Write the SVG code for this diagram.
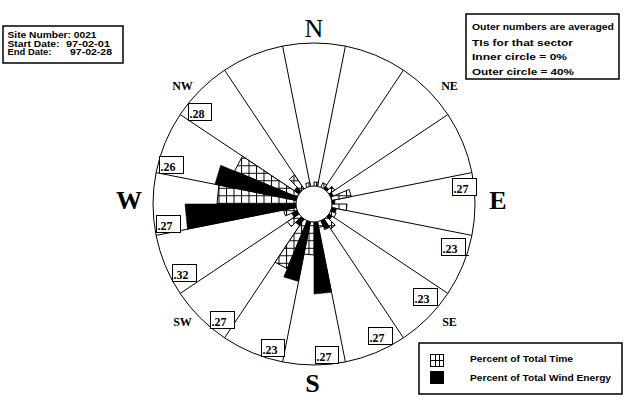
<svg xmlns="http://www.w3.org/2000/svg" width="630" height="406" viewBox="0 0 630 406">
<style>
.ln{stroke:#000;stroke-width:1;fill:none}
.hat{fill:url(#grid);stroke:#000;stroke-width:1;stroke-linejoin:miter}
.blk{fill:#000;stroke:#000;stroke-width:0.6}
.box{fill:#fff;stroke:#000;stroke-width:1}
.ibox{fill:#fff;stroke:#000;stroke-width:1.5}
.ti{font-family:"Liberation Serif",serif;font-weight:bold;font-size:12px}
.card{font-family:"Liberation Serif",serif;font-weight:bold;font-size:26px;text-anchor:middle}
.ic{font-family:"Liberation Serif",serif;font-weight:bold;font-size:12px;text-anchor:middle}
.sm{font-family:"Liberation Sans",sans-serif;font-weight:bold;font-size:9px}
</style>
<defs>
<pattern id="grid" patternUnits="userSpaceOnUse" x="1" y="0.3" width="7.5" height="7.5">
<rect width="7.5" height="7.5" fill="#fff"/>
<path d="M0 0.5H7.5M0.5 0V7.5" stroke="#000" stroke-width="1"/>
</pattern>
</defs>
<rect width="630" height="406" fill="#fff"/>
<g id="rose">
<circle cx="314" cy="204" r="161" class="ln"/>
<g id="dividers" class="ln">
<line x1="317.51" y1="186.35" x2="345.41" y2="46.09"/>
<line x1="324.0" y1="189.03" x2="403.45" y2="70.13"/>
<line x1="328.97" y1="194.0" x2="447.87" y2="114.55"/>
<line x1="331.65" y1="200.49" x2="471.91" y2="172.59"/>
<line x1="331.65" y1="207.51" x2="471.91" y2="235.41"/>
<line x1="328.97" y1="214.0" x2="447.87" y2="293.45"/>
<line x1="324.0" y1="218.97" x2="403.45" y2="337.87"/>
<line x1="317.51" y1="221.65" x2="345.41" y2="361.91"/>
<line x1="310.49" y1="221.65" x2="282.59" y2="361.91"/>
<line x1="304.0" y1="218.97" x2="224.55" y2="337.87"/>
<line x1="299.03" y1="214.0" x2="180.13" y2="293.45"/>
<line x1="296.35" y1="207.51" x2="156.09" y2="235.41"/>
<line x1="296.35" y1="200.49" x2="156.09" y2="172.59"/>
<line x1="299.03" y1="194.0" x2="180.13" y2="114.55"/>
<line x1="304.0" y1="189.03" x2="224.55" y2="70.13"/>
<line x1="310.49" y1="186.35" x2="282.59" y2="46.09"/>
</g>
<g id="time-bars">
<polygon class="hat" points="314,187 314,182 318.29,182.42 317.32,187.33"/>
<polygon class="hat" points="320.51,188.29 322.8,182.75 326.78,184.88 323.44,189.87"/>
<polygon class="hat" points="326.02,191.98 331.68,186.32 334.79,190.11 328.13,194.56"/>
<polygon class="hat" points="329.71,197.49 349.11,189.46 351.27,196.59 330.67,200.68"/>
<polygon class="hat" points="331,204 347,204 346.37,210.44 330.67,207.32"/>
<polygon class="hat" points="329.71,210.51 336.17,213.18 333.96,217.33 328.13,213.44"/>
<polygon class="hat" points="326.02,216.02 335.21,225.21 330.67,228.94 323.44,218.13"/>
<polygon class="hat" points="320.51,219.71 323.18,226.17 318.68,227.54 317.32,220.67"/>
<polygon class="hat" points="314,221 314,255 304.05,254.02 310.68,220.67"/>
<polygon class="hat" points="307.49,219.71 287.21,268.67 275.11,262.2 304.56,218.13"/>
<polygon class="hat" points="301.98,216.02 291.37,226.63 287.39,221.78 299.87,213.44"/>
<polygon class="hat" points="298.29,210.51 285.36,215.86 283.6,210.05 297.33,207.32"/>
<polygon class="hat" points="297,204 217,204 218.86,185.08 297.33,200.68"/>
<polygon class="hat" points="298.29,197.49 234.55,171.09 242.49,156.22 299.87,194.56"/>
<polygon class="hat" points="301.98,191.98 289.25,179.25 294.56,174.9 304.56,189.87"/>
<polygon class="hat" points="307.49,188.29 305.58,183.67 309.71,182.42 310.68,187.33"/>
</g>
<g id="energy-bars">
<polygon class="blk" points="323.44,189.87 325.67,186.54 328.85,189.15 326.02,191.98"/>
<polygon class="blk" points="328.13,194.56 331.46,192.33 333.4,195.96 329.71,197.49"/>
<polygon class="blk" points="330.67,200.68 334.6,199.9 335,204 331,204"/>
<polygon class="blk" points="330.67,207.32 336.56,208.49 335.25,212.8 329.71,210.51"/>
<polygon class="blk" points="328.13,213.44 332.29,216.22 329.56,219.56 326.02,216.02"/>
<polygon class="blk" points="323.44,218.13 329.56,227.28 324.72,229.87 320.51,219.71"/>
<polygon class="blk" points="317.32,220.67 331.56,292.27 314,294 314,221"/>
<polygon class="blk" points="310.68,220.67 298.59,281.48 283.77,276.99 307.49,219.71"/>
<polygon class="blk" points="304.56,218.13 299.56,225.62 295.62,222.38 301.98,216.02"/>
<polygon class="blk" points="299.87,213.44 294.04,217.33 291.83,213.18 298.29,210.51"/>
<polygon class="blk" points="297.33,207.32 187.48,229.17 185,204 297,204"/>
<polygon class="blk" points="297.33,200.68 214.94,184.3 220.69,165.35 298.29,197.49"/>
<polygon class="blk" points="299.87,194.56 294.04,190.67 297.03,187.03 301.98,191.98"/>
</g>
<circle cx="314" cy="204" r="18" fill="#fff" stroke="#000" stroke-width="1"/>
</g>
<g id="ti-labels">
<g id="ti-nw"><rect class="box" x="188.5" y="103.5" width="23" height="17"/><text class="ti" x="189.5" y="117.5">.28</text></g>
<g id="ti-wnw"><rect class="box" x="159.5" y="156.5" width="24" height="17"/><text class="ti" x="160.5" y="170.5">.26</text></g>
<g id="ti-w"><rect class="box" x="156.5" y="215.5" width="24" height="17"/><text class="ti" x="157.5" y="229.5">.27</text></g>
<g id="ti-wsw"><rect class="box" x="172.5" y="264.5" width="24" height="17"/><text class="ti" x="173.5" y="278.5">.32</text></g>
<g id="ti-sw"><rect class="box" x="210.5" y="311.5" width="24" height="17"/><text class="ti" x="211.5" y="325.5">.27</text></g>
<g id="ti-ssw"><rect class="box" x="261.5" y="339.5" width="23" height="17"/><text class="ti" x="262.5" y="353.5">.23</text></g>
<g id="ti-s"><rect class="box" x="315.5" y="346.5" width="23" height="17"/><text class="ti" x="316.5" y="360.5">.27</text></g>
<g id="ti-sse"><rect class="box" x="368.5" y="327.5" width="24" height="17"/><text class="ti" x="369.5" y="341.5">.27</text></g>
<g id="ti-se"><rect class="box" x="413.5" y="288.5" width="24" height="17"/><text class="ti" x="414.5" y="302.5">.23</text></g>
<g id="ti-ese"><rect class="box" x="441.5" y="238.5" width="24" height="17"/><line class="ln" x1="465.5" y1="255.5" x2="469" y2="255.5"/><text class="ti" x="442.5" y="252.5">.23</text></g>
<g id="ti-e"><rect class="box" x="452.5" y="178.5" width="24" height="17"/><text class="ti" x="453.5" y="192.5">.27</text></g>
</g>
<g id="directions">
<text class="card" x="314" y="37" font-weight="normal" style="font-weight:normal">N</text>
<text class="card" x="129" y="209">W</text>
<text class="card" x="498" y="209">E</text>
<text class="card" x="312.5" y="392">S</text>
<text class="ic" x="182.5" y="90">NW</text>
<text class="ic" x="449.5" y="90">NE</text>
<text class="ic" x="182.5" y="326">SW</text>
<text class="ic" x="449.5" y="326">SE</text>
</g>
<g id="site-info">
<rect class="ibox" x="3" y="26" width="120" height="37"/>
<text class="sm" x="7.5" y="37.5" textLength="89" lengthAdjust="spacingAndGlyphs">Site Number: 0021</text>
<text class="sm" x="7.5" y="46.5" textLength="52" lengthAdjust="spacingAndGlyphs">Start Date:</text>
<text class="sm" x="66" y="46.5" textLength="44" lengthAdjust="spacingAndGlyphs">97-02-01</text>
<text class="sm" x="7.5" y="55" textLength="44" lengthAdjust="spacingAndGlyphs">End Date:</text>
<text class="sm" x="70" y="55" textLength="42" lengthAdjust="spacingAndGlyphs">97-02-28</text>
</g>
<g id="notes">
<rect class="ibox" x="466" y="14" width="153" height="65"/>
<text class="sm" x="472" y="30" textLength="142" lengthAdjust="spacingAndGlyphs">Outer numbers are averaged</text>
<text class="sm" x="472" y="46" textLength="101" lengthAdjust="spacingAndGlyphs">TIs for that sector</text>
<text class="sm" x="472" y="60" textLength="95" lengthAdjust="spacingAndGlyphs">Inner circle = 0%</text>
<text class="sm" x="472" y="74.5" textLength="102" lengthAdjust="spacingAndGlyphs">Outer circle = 40%</text>
</g>
<g id="legend">
<rect class="ibox" x="419" y="343" width="203" height="51"/>
<rect x="430.5" y="354.5" width="13" height="12" fill="#fff" stroke="#000" stroke-width="1"/>
<path d="M435.5 354.5V366.5M439.5 354.5V366.5M430.5 360.5H443.5" stroke="#000" stroke-width="1" fill="none"/>
<rect x="430" y="371" width="14" height="13" fill="#000"/>
<text class="sm" x="470" y="362" textLength="103" lengthAdjust="spacingAndGlyphs">Percent of Total Time</text>
<text class="sm" x="470" y="381" textLength="141" lengthAdjust="spacingAndGlyphs">Percent of Total Wind Energy</text>
</g>
</svg>
